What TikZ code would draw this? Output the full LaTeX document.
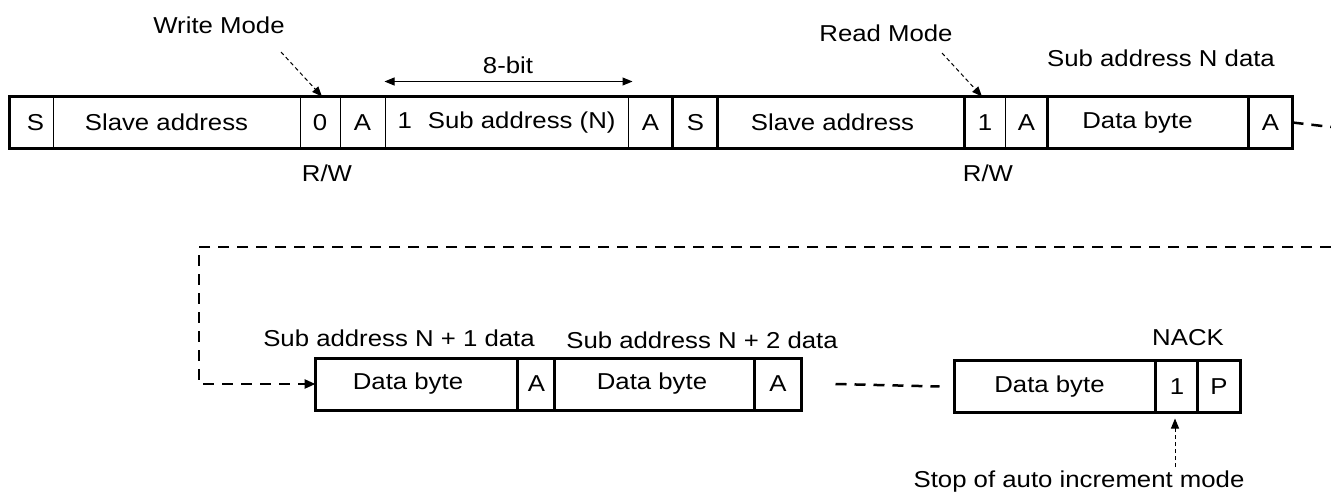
\documentclass[tikz,border=0pt]{standalone}
\usepackage{fontspec}
\setmainfont[FakeStretch=1.12]{Liberation Sans}
\usetikzlibrary{arrows.meta,calc}

\tikzset{
  field/.style = {draw, line width=1pt, minimum height=51, inner sep=0pt},
  frame/.style = {line width=3pt},
  link/.style  = {line width=2.5pt, dash pattern=on 11pt off 8pt},
  note/.style  = {line width=1pt, dash pattern=on 4pt off 3pt, -{Triangle[length=10pt,width=8pt]}},
  txt/.style   = {inner sep=0pt}
}

\begin{document}
\begin{tikzpicture}[x=1pt, y=-1pt, font=\fontsize{23}{26}\selectfont]
\useasboundingbox (0,0) rectangle (1331,495);

% first frame: write sub address, then read
\foreach \xa/\xb/\t [count=\i] in {10/53/{\kern8pt S}, 53/300/{Slave address\kern20pt}, 300/340/0, 340/385/A,
    385/628/{1\hspace{0.7em}Sub address (N)}, 628/673/A, 673/718/S, 718/965/{Slave address\kern18pt},
    965/1005/1, 1005/1048/A, 1048/1249/{Data byte\kern22pt}, 1249/1292/A}
  \node[field, minimum width=\xb-\xa] (t\i) at ({(\xa+\xb)/2},122.5) {\t};
\draw[frame] (t1.north west) rectangle (t12.south east);
\foreach \i in {7,8,9,11,12} \draw[frame] (t\i.north west) -- (t\i.south west);

% second frame: following data bytes
\foreach \xa/\xb/\t [count=\i] in {316/518/{Data byte\kern18pt}, 518/555/A, 555/755/{Data byte\kern6pt}, 755/801/A}
  \node[field, minimum width=\xb-\xa] (b\i) at ({(\xa+\xb)/2},384) {\t};
\draw[frame] (b1.north west) rectangle (b4.south east);
\foreach \i in {2,3,4} \draw[frame] (b\i.north west) -- (b\i.south west);

\foreach \xa/\xb/\t [count=\i from 5] in {955/1156/{Data byte\kern12pt}, 1156/1198/1, 1198/1240/P}
  \node[field, minimum width=\xb-\xa] (b\i) at ({(\xa+\xb)/2},386.5) {\t};
\draw[frame] (b5.north west) rectangle (b7.south east);
\foreach \i in {6,7} \draw[frame] (b\i.north west) -- (b\i.south west);

% continuation
\coordinate (r1) at (1331,127);
\coordinate (r2) at (1331,247);
\coordinate (l1) at (199,247);
\draw[link] (t12.east) -- (r1);
\draw[link, -{Triangle[length=11pt,width=9pt]}] (r2) -- (l1) |- (b1.west);
\draw[link] ([xshift=34]b4.east) -- ([xshift=-15]b5.west);

% labels
\node[txt] (wm) at (219,25) {Write Mode};
\coordinate (wmtail) at (281,52);
\draw[note] (wmtail) -- ([xshift=2]t3.north);
\node[txt] (rm) at (886,33) {Read Mode};
\coordinate (rmtail) at (942,53);
\draw[note] (rmtail) -- ([xshift=-3]t9.north);

\node[txt] (eight) at (508,65) {8-bit};
\draw[line width=1pt, {Triangle[length=10pt,width=8pt]}-{Triangle[length=10pt,width=8pt]}]
  ([yshift=15]t5.north west) -- ([yshift=15,xshift=4]t5.north east);

\node[txt] (sn) at (1161,58) {Sub address N data};
\node[txt] (rw1) at (327,173) {R/W};
\node[txt] (rw2) at (988,173) {R/W};

\node[txt] (sn1) at (399,338) {Sub address N + 1 data};
\node[txt] (sn2) at (702,340) {Sub address N + 2 data};
\node[txt] (nack) at (1188,338) {NACK};
\node[txt] (stop) at (1079,482) {Stop of auto increment mode};
\coordinate (stoptail) at (1175,467);
\draw[note] (stoptail) -- ([yshift=-6,xshift=-2]b6.south);
\end{tikzpicture}
\end{document}
